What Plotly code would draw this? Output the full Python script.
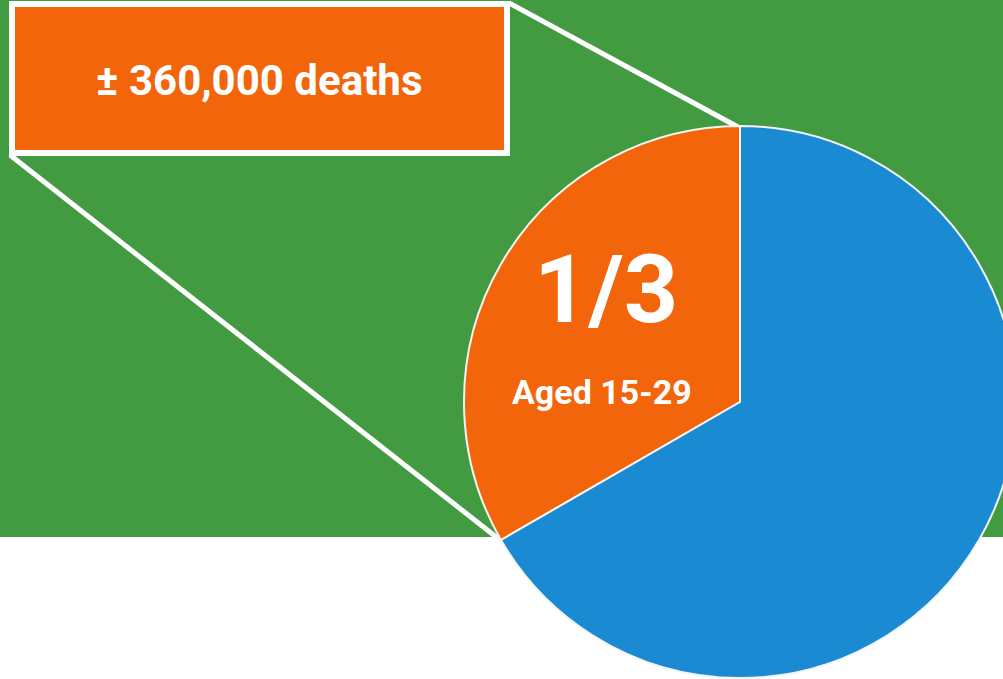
import plotly.graph_objects as go

# ---- data ----
labels = ["Aged 15-29", "Other ages"]
values = [1, 2]
colors = ["#F2650A", "#1A8BD2"]
fraction_text = "1/3"
slice_label = "Aged 15-29"
box_text = "± 360,000 deaths"

W, H = 1016, 679
GREEN = "#439B41"
ORANGE = "#F2650A"

fig = go.Figure()
fig.add_trace(go.Pie(
    labels=labels, values=values, sort=False, direction="clockwise",
    rotation=-120, textinfo="none", hoverinfo="label+percent", showlegend=False,
    marker=dict(colors=colors, line=dict(color="#F4F4F4", width=2)),
    domain=dict(x=[464 / W, 1.0], y=[1 - 678 / H, 1 - 126 / H]),
))

shapes = [
    dict(type="rect", xref="x", yref="y", x0=0, x1=W, y0=0, y1=537,
         fillcolor=GREEN, line=dict(width=0), layer="below"),
    dict(type="line", xref="x", yref="y", x0=509, y0=3, x1=738, y1=127,
         line=dict(color="white", width=5), layer="below"),
    dict(type="line", xref="x", yref="y", x0=10, y0=155, x1=500, y1=540,
         line=dict(color="white", width=5), layer="below"),
    dict(type="rect", xref="x", yref="y", x0=12, y0=4, x1=507, y1=153,
         fillcolor=ORANGE, line=dict(color="white", width=6), layer="below"),
]

annotations = [
    dict(x=259, y=80, xref="x", yref="y", text=box_text, showarrow=False,
         font=dict(family="Roboto", size=42, color="white", weight="bold")),
    dict(x=606, y=289, xref="x", yref="y", text=fraction_text, showarrow=False,
         font=dict(family="Roboto", size=95, color="white", weight="bold")),
    dict(x=602, y=392, xref="x", yref="y", text=slice_label, showarrow=False,
         font=dict(family="Roboto", size=34, color="white", weight="bold")),
]

fig.update_layout(
    width=W, height=H, margin=dict(l=0, r=0, t=0, b=0),
    paper_bgcolor="white", plot_bgcolor="rgba(0,0,0,0)",
    xaxis=dict(range=[0, W], visible=False, fixedrange=True),
    yaxis=dict(range=[H, 0], visible=False, fixedrange=True),
    shapes=shapes, annotations=annotations,
)

fig.write_html(
    "out.html",
    config={"displayModeBar": False},
    post_script="document.body.style.margin='0';document.body.style.overflow='hidden';document.documentElement.style.overflow='hidden';",
)
